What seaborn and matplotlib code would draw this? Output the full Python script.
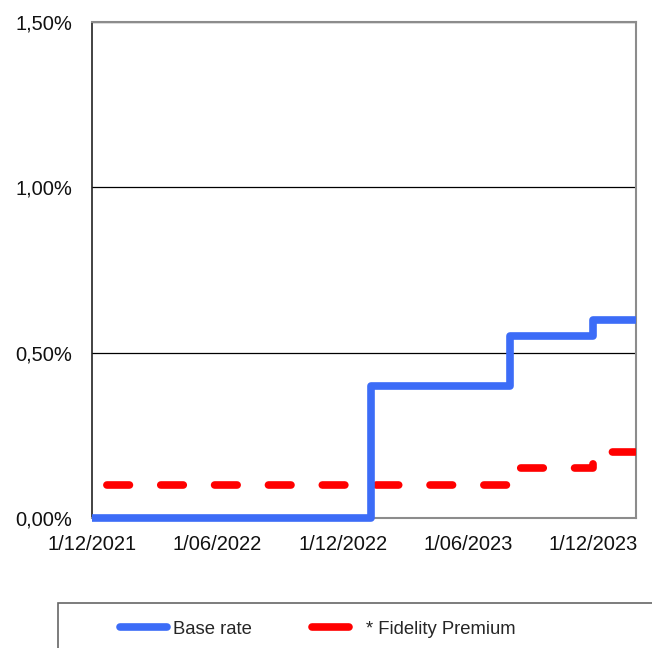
import matplotlib
matplotlib.use("Agg")
import matplotlib.pyplot as plt
from matplotlib.lines import Line2D
from matplotlib.patches import Rectangle
import pandas as pd
import seaborn as sns

# step dates (rate valid from that date on), last one only closes the line
dates = ["2021-12-01", "2023-01-11", "2023-08-02", "2023-12-01", "2024-02-01"]
base_rate = [0.00, 0.40, 0.55, 0.60, 0.60]
fidelity_premium = [0.10, 0.10, 0.15, 0.20, 0.20]

xtick_dates = ["2021-12-01", "2022-06-01", "2022-12-01", "2023-06-01", "2023-12-01"]
xtick_labels = ["1/12/2021", "1/06/2022", "1/12/2022", "1/06/2023", "1/12/2023"]
ytick_values = [0.0, 0.5, 1.0, 1.5]
ytick_labels = ["0,00%", "0,50%", "1,00%", "1,50%"]

df = pd.DataFrame({"date": pd.to_datetime(dates),
                   "Base rate": base_rate,
                   "* Fidelity Premium": fidelity_premium})

sns.set_theme(style="white")
plt.rcParams["font.family"] = ["Liberation Sans", "DejaVu Sans"]

fig = plt.figure(figsize=(6.52, 6.48), dpi=100)
ax = fig.add_axes([92/652, 1-518/648, (636-92)/652, (518-22)/648])

blue = "#3c6cf7"
red = "#ff0000"
lw = 5.5
sns.lineplot(data=df, x="date", y="Base rate", ax=ax, color=blue, lw=lw,
             drawstyle="steps-post", clip_on=False, zorder=4,
             solid_capstyle="butt", solid_joinstyle="round")
sns.lineplot(data=df, x="date", y="* Fidelity Premium", ax=ax, color=red, lw=lw,
             drawstyle="steps-post", zorder=3,
             linestyle=(5.1, (2.95, 4.1)), dash_capstyle="round")

ax.set_xlim(df["date"].min(), df["date"].max())
ax.set_ylim(0, 1.5)
ax.set_xticks(pd.to_datetime(xtick_dates))
ax.set_xticklabels(xtick_labels)
ax.set_yticks(ytick_values)
ax.set_yticklabels(ytick_labels)
ax.set_xlabel("")
ax.set_ylabel("")

ax.yaxis.grid(True, color="black", lw=0.9)
ax.xaxis.grid(False)
ax.tick_params(axis="both", which="major", direction="out", length=5, width=1,
               color="#222222", labelsize=14.5, labelcolor="#111111")
ax.tick_params(axis="y", pad=9)
ax.tick_params(axis="x", pad=7)
for side in ["top", "right", "bottom"]:
    ax.spines[side].set_color("#8c8c8c")
    ax.spines[side].set_linewidth(1.5)
ax.spines["left"].set_color("#222222")
ax.spines["left"].set_linewidth(1.2)

# legend: a frame running off the figure with two entries inside
fig.patches.append(Rectangle((58/652, -0.05), 0.95, 1-603/648+0.05,
                             transform=fig.transFigure, fill=False,
                             edgecolor="#666666", lw=1.2, clip_on=False))
h_blue = Line2D([], [], color=blue, lw=lw, solid_capstyle="round")
h_red = Line2D([], [], color=red, lw=lw, solid_capstyle="round")
fig.legend([h_blue], ["Base rate"], loc="center left",
           bbox_to_anchor=(120/652, 1-629/648), frameon=False,
           handlelength=2.55, handletextpad=0.3, borderpad=0,
           borderaxespad=0, fontsize=13.3)
fig.legend([h_red], ["* Fidelity Premium"], loc="center left",
           bbox_to_anchor=(312/652, 1-629/648), frameon=False,
           handlelength=2.0, handletextpad=0.95, borderpad=0,
           borderaxespad=0, fontsize=13.3)

fig.savefig("out.png", dpi=100)
